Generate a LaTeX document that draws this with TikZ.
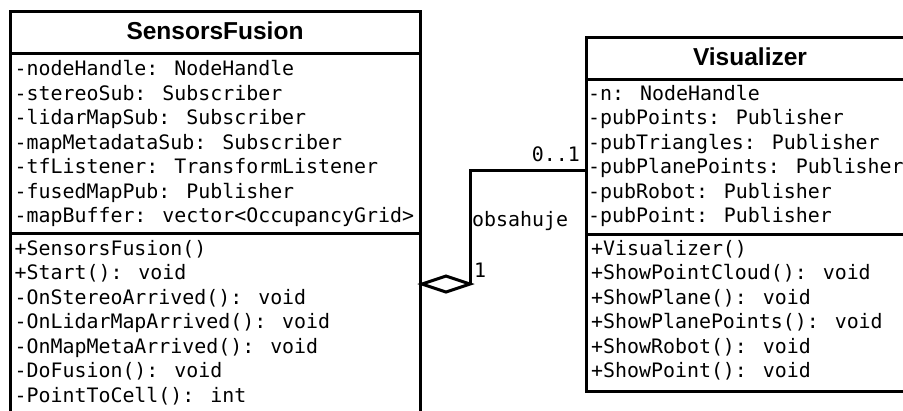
\documentclass[tikz,border=0pt]{standalone}
\usepackage{fontspec}
\setmainfont{Liberation Sans}
\newfontfamily\umlmono{DejaVu Sans Mono}
\usetikzlibrary{shapes.geometric}
\begin{document}
\begin{tikzpicture}[x=1pt,y=-1pt,
  compartment/.style={draw, line width=3pt, inner sep=0pt, outer sep=0pt, anchor=north west},
  classname/.style={font=\bfseries\fontsize{24.5}{29}\selectfont, anchor=base, inner sep=0pt},
  member/.style={font=\umlmono\fontsize{19.9}{24.5}\selectfont, anchor=base west, inner sep=0pt},
  linklabel/.style={font=\umlmono\fontsize{19.9}{24.5}\selectfont, inner sep=0pt},
  link/.style={line width=3pt, line join=miter}]
\useasboundingbox (0,0) rectangle (903,410);
\clip (0,0) rectangle (903,410);
\fill[white] (0,0) rectangle (903,410);

% class SensorsFusion
\node[compartment, minimum width=410pt, minimum height=42pt] (sfhead) at (10,11) {};
\node[compartment, minimum width=410pt, minimum height=180.5pt] (sfattr) at (10,53) {};
\node[compartment, minimum width=410pt, minimum height=200pt] (sfops) at (10,233.5) {};
\node[classname] (sfname) at (215,39) {SensorsFusion};
\foreach \t [count=\i] in {-nodeHandle: NodeHandle, -stereoSub: Subscriber,
    -lidarMapSub: Subscriber, -mapMetadataSub: Subscriber,
    -tfListener: TransformListener, -fusedMapPub: Publisher,
    -mapBuffer: vector<OccupancyGrid>}
  \node[member] (sfa\i) at (14.5,{75.5+24.5*(\i-1)}) {\t};
\foreach \t [count=\i] in {+SensorsFusion(), +Start(): void,
    -OnStereoArrived(): void, -OnLidarMapArrived(): void,
    -OnMapMetaArrived(): void, -DoFusion(): void, -PointToCell(): int}
  \node[member] (sfo\i) at (14.5,{255+24.5*(\i-1)}) {\t};

% class Visualizer
\node[compartment, minimum width=328pt, minimum height=42pt] (vzhead) at (586,37) {};
\node[compartment, minimum width=328pt, minimum height=155pt] (vzattr) at (586,79) {};
\node[compartment, minimum width=328pt, minimum height=157pt] (vzops) at (586,234) {};
\node[classname] (vzname) at (750,65) {Visualizer};
\foreach \t [count=\i] in {-n: NodeHandle, -pubPoints: Publisher,
    -pubTriangles: Publisher, -pubPlanePoints: Publisher,
    -pubRobot: Publisher, -pubPoint: Publisher}
  \node[member] (vza\i) at (588,{100+24.5*(\i-1)}) {\t};
\foreach \t [count=\i] in {+Visualizer(), +ShowPointCloud(): void,
    +ShowPlane(): void, +ShowPlanePoints(): void,
    +ShowRobot(): void, +ShowPoint(): void}
  \node[member] (vzo\i) at (591,{255+24.5*(\i-1)}) {\t};

% aggregation: SensorsFusion (1) contains Visualizer (0..1)
\node[diamond, draw, line width=3pt, fill=white, inner sep=0pt, outer sep=0pt,
  minimum width=48pt, minimum height=16pt] (agg) at (446,284) {};
\coordinate (vzin) at (586,170);
\draw[link] (agg.east) |- (vzin);
\node[linklabel, anchor=base east] (mult) at (580,161.7) {0..1};
\node[linklabel, anchor=base west] (role) at (472,226.5) {obsahuje};
\node[linklabel, anchor=base west] (mone) at (474,277) {1};
\end{tikzpicture}
\end{document}
